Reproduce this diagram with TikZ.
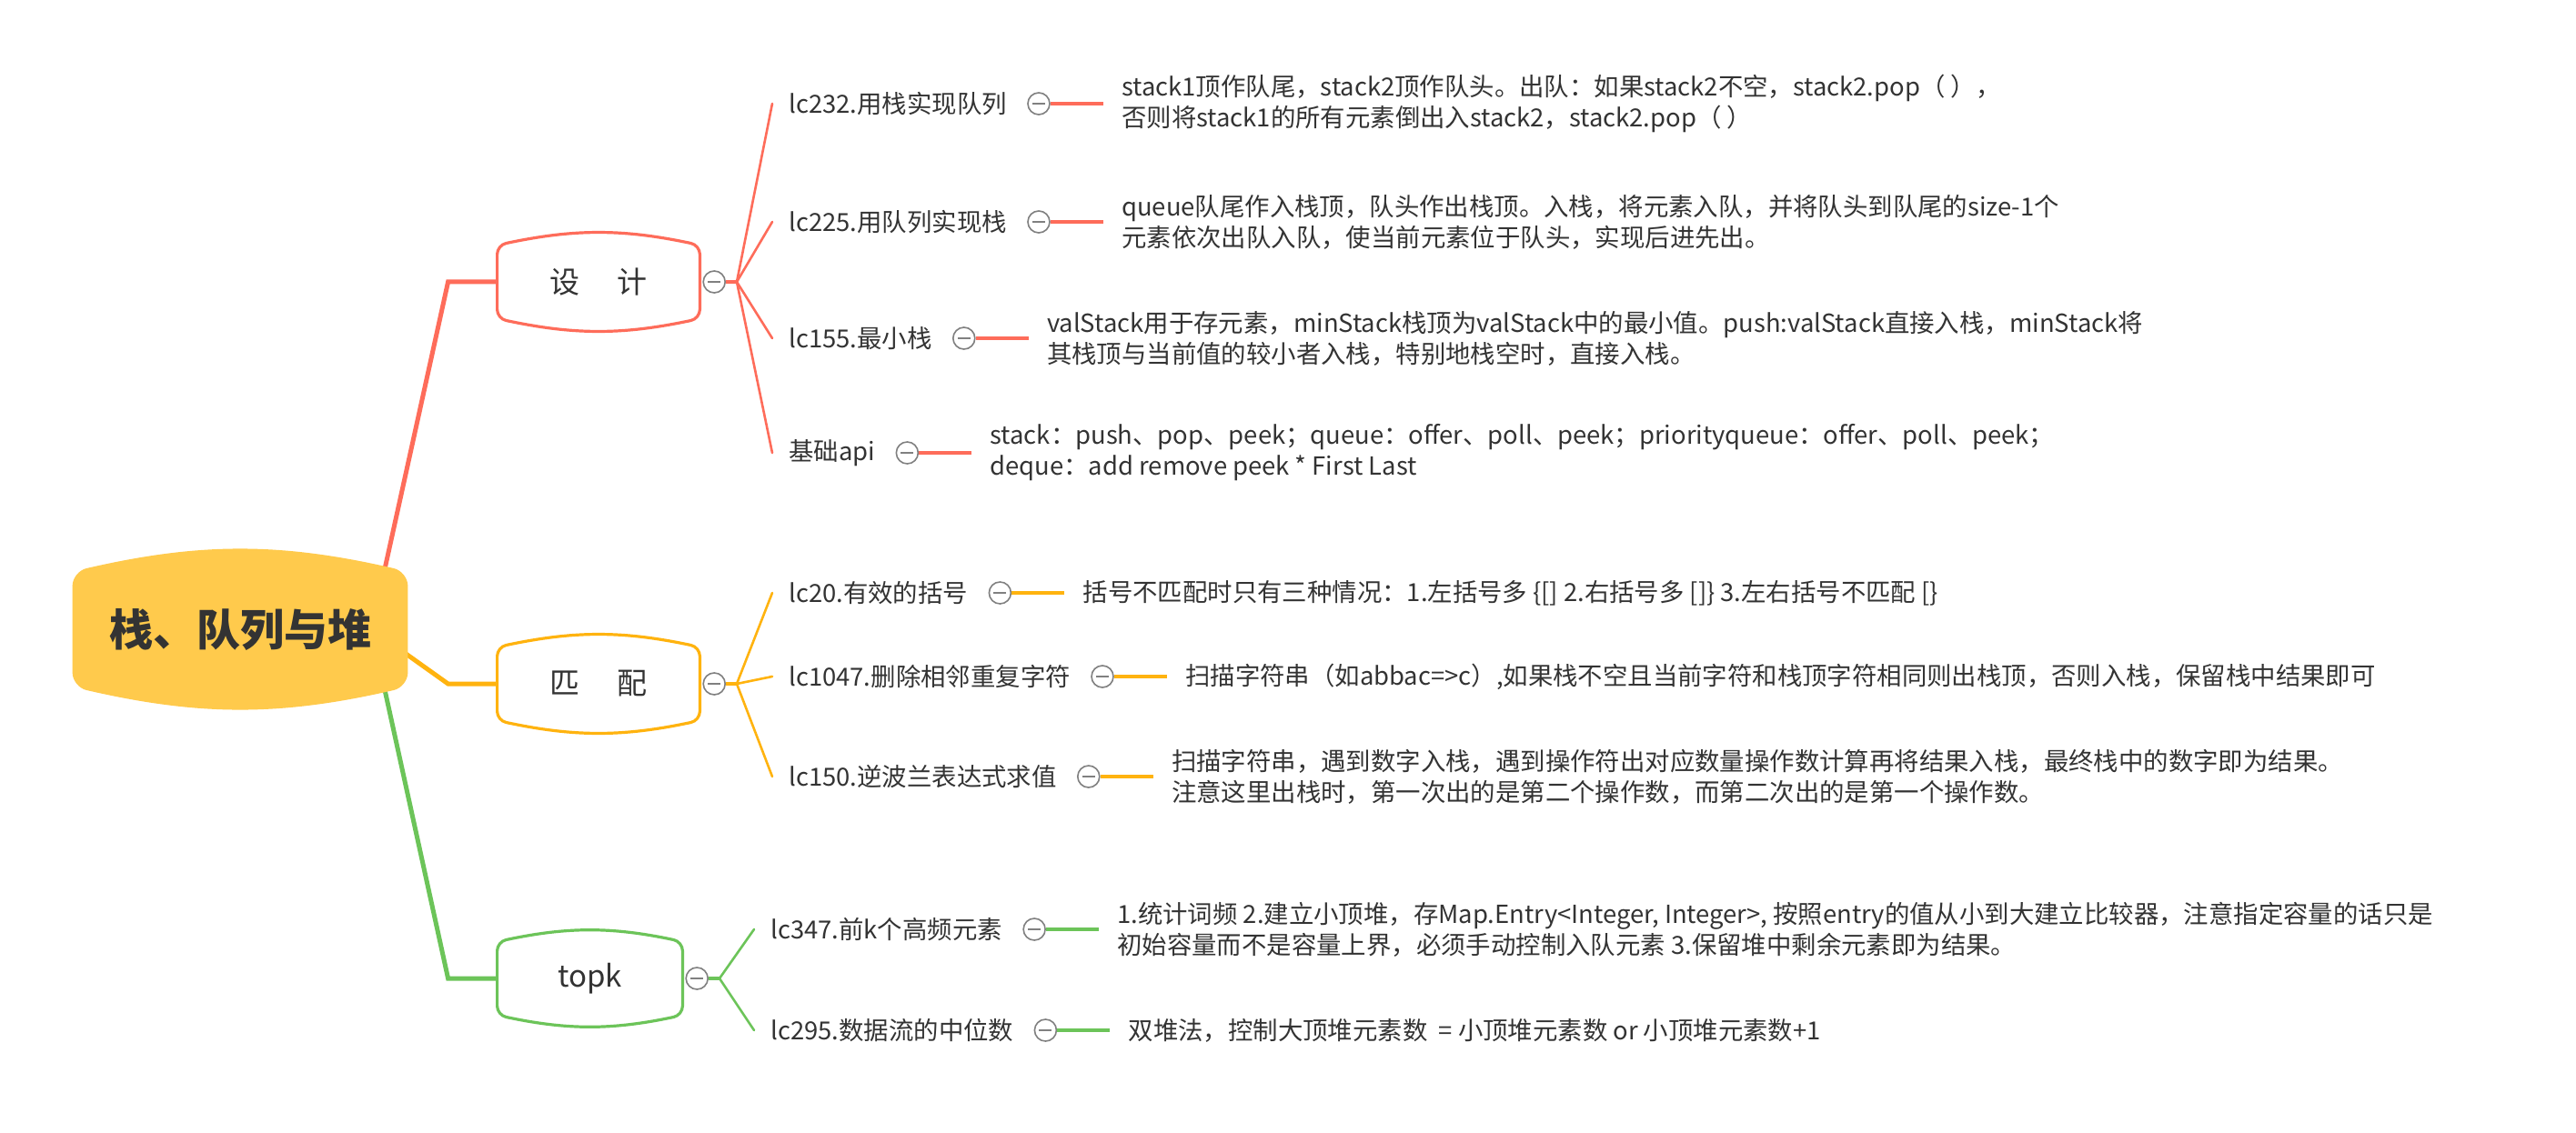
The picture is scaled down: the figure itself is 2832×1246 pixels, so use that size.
\documentclass[tikz,border=0pt]{standalone}
\usepackage{fontspec}
\setmainfont{Noto Sans CJK SC}
\usetikzlibrary{positioning,backgrounds}

\definecolor{rootfill}{HTML}{FFCA4C}
\definecolor{inkgray}{HTML}{333333}
\definecolor{designred}{HTML}{FE6C5A}
\definecolor{matchyellow}{HTML}{FFB30F}
\definecolor{topkgreen}{HTML}{6CC459}
\definecolor{foldgray}{HTML}{808080}

% outline with bulging top and bottom round a node
\newcommand{\bulgebox}[3][]{%
  \path[#1] (#2.north west) to[bend left=#3] (#2.north east)
    -- (#2.south east) to[bend left=#3] (#2.south west) -- cycle;}

\begin{document}
\begin{tikzpicture}[x=0.5pt, y=-0.5pt, inner sep=0pt,
  rootbox/.style={minimum width=184pt, minimum height=63pt, text=inkgray,
    font=\fontsize{24}{28}\selectfont\bfseries},
  topic/.style={minimum width=111pt, minimum height=40pt, text=inkgray,
    font=\fontsize{16.5}{20}\selectfont},
  leaf/.style={anchor=west, inner xsep=9pt, text=inkgray,
    font=\fontsize{13.7}{17}\selectfont},
  note/.style={leaf, inner xsep=10pt, align=left},
  fold/.style={circle, draw=foldgray, fill=white, line width=0.8pt, minimum size=12pt,
    path picture={\draw[foldgray, line width=1pt]
      ([xshift=2.5pt]path picture bounding box.west) -- ([xshift=-2.5pt]path picture bounding box.east);}},
  trunk/.style={draw=#1, line width=2.5pt},
  twig/.style={draw=#1, line width=1.3pt, line cap=round},
  stub/.style={draw=#1, line width=2pt}]
  \useasboundingbox (0,0) rectangle (2832,1246);

  % centre and topics
  \node[rootbox] (root) at (264,692) {栈、队列与堆};
  \coordinate (rootout) at ([xshift=-20pt]root.east);
  \node[topic] (design) at (658,310) {设\hspace{1.25em}计};
  \node[topic] (match) at (658,752) {匹\hspace{1.25em}配};
  \node[topic, minimum width=101.5pt] (topk) at (648.5,1076) {topk};
  \node[fold, right=1.5pt of design] (fdesign) {};
  \node[fold, right=1.5pt of match] (fmatch) {};
  \node[fold, right=1.5pt of topk] (ftopk) {};
  \coordinate[right=6pt of fdesign] (dfan);
  \coordinate[right=6pt of fmatch] (mfan);
  \coordinate[right=6pt of ftopk] (tfan);
  \draw[stub=designred] (fdesign) -- (dfan);
  \draw[stub=matchyellow] (fmatch) -- (mfan);
  \draw[stub=topkgreen] (ftopk) -- (tfan);

  % 设计
  \foreach \n/\y/\q/\d in {
      a/114/{lc232.用栈实现队列}/{stack1顶作队尾，stack2顶作队头。出队：如果stack2不空，stack2.pop（ ），\\否则将stack1的所有元素倒出入stack2，stack2.pop（ ）},
      b/244/{lc225.用队列实现栈}/{queue队尾作入栈顶，队头作出栈顶。入栈，将元素入队，并将队头到队尾的size-1个\\元素依次出队入队，使当前元素位于队头，实现后进先出。},
      c/372/{lc155.最小栈}/{valStack用于存元素，minStack栈顶为valStack中的最小值。push:valStack直接入栈，minStack将\\其栈顶与当前值的较小者入栈，特别地栈空时，直接入栈。},
      d/498/{基础api}/{stack：push、pop、peek；queue：offer、poll、peek；priorityqueue：offer、poll、peek；\\deque：add remove peek * First Last}} {
    \node[leaf] (l\n) at (849,\y) {\q};
    \node[fold, right=2pt of l\n] (f\n) {};
    \node[note, right=29pt of f\n] (n\n) {\d};
    \draw[twig=designred] (dfan) -- (l\n.west);
    \draw[stub=designred] (f\n) -- (n\n.west);
  }

  % 匹配
  \foreach \n/\y/\q/\d in {
      e/652/{lc20.有效的括号}/{括号不匹配时只有三种情况：1.左括号多 \{[] 2.右括号多 []\} 3.左右括号不匹配 [\}},
      f/744/{lc1047.删除相邻重复字符}/{扫描字符串（如abbac=>c）,如果栈不空且当前字符和栈顶字符相同则出栈顶，否则入栈，保留栈中结果即可},
      g/854/{lc150.逆波兰表达式求值}/{扫描字符串，遇到数字入栈，遇到操作符出对应数量操作数计算再将结果入栈，最终栈中的数字即为结果。\\注意这里出栈时，第一次出的是第二个操作数，而第二次出的是第一个操作数。}} {
    \node[leaf] (l\n) at (849,\y) {\q};
    \node[fold, right=2pt of l\n] (f\n) {};
    \node[note, right=29pt of f\n] (n\n) {\d};
    \draw[twig=matchyellow] (mfan) -- (l\n.west);
    \draw[stub=matchyellow] (f\n) -- (n\n.west);
  }

  % topk
  \foreach \n/\y/\q/\d in {
      h/1022/{lc347.前k个高频元素}/{1.统计词频 2.建立小顶堆，存Map.Entry<Integer, Integer>, 按照entry的值从小到大建立比较器，注意指定容量的话只是\\初始容量而不是容量上界，必须手动控制入队元素 3.保留堆中剩余元素即为结果。},
      i/1133/{lc295.数据流的中位数}/{双堆法，控制大顶堆元素数 \ = 小顶堆元素数 or 小顶堆元素数+1}} {
    \node[leaf] (l\n) at (829,\y) {\q};
    \node[fold, right=2pt of l\n] (f\n) {};
    \node[note, right=29pt of f\n] (n\n) {\d};
    \draw[twig=topkgreen] (tfan) -- (l\n.west);
    \draw[stub=topkgreen] (f\n) -- (n\n.west);
  }

  \begin{scope}[on background layer]
    \fill[white] (0,0) rectangle (2832,1246);
    \draw[trunk=designred] (rootout) -- ([xshift=-27pt]design.west) -- (design.west);
    \draw[trunk=matchyellow] (rootout) -- ([xshift=-27pt]match.west) -- (match.west);
    \draw[trunk=topkgreen] (rootout) -- ([xshift=-27pt]topk.west) -- (topk.west);
    \bulgebox[fill=rootfill, rounded corners=8pt]{root}{13}
    \bulgebox[draw=designred, fill=white, line width=1.6pt, rounded corners=5pt]{design}{12}
    \bulgebox[draw=matchyellow, fill=white, line width=1.6pt, rounded corners=5pt]{match}{12}
    \bulgebox[draw=topkgreen, fill=white, line width=1.6pt, rounded corners=5pt]{topk}{12}
  \end{scope}
\end{tikzpicture}
\end{document}
